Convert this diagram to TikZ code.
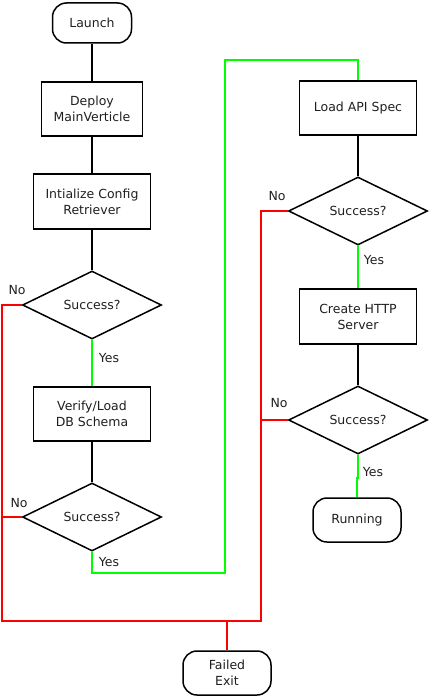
\documentclass[tikz,border=0pt]{standalone}
\usepackage{fontspec}
\setmainfont{DejaVu Sans}
\usetikzlibrary{shapes.geometric}
\begin{document}
\begin{tikzpicture}[x=1pt,y=-1pt,
  base/.style={font=\fontsize{12.5}{16}\selectfont, text=black!88, align=center, line width=1.5pt, draw=black},
  proc/.style={base, rectangle, minimum width=117pt, minimum height=54pt, inner sep=0pt},
  term/.style={base, rectangle, rounded corners=14pt, minimum width=88pt, minimum height=44pt, inner sep=0pt},
  dec/.style={base, diamond, minimum width=139pt, minimum height=68pt, inner sep=0pt},
  lbl/.style={font=\fontsize{12.5}{14}\selectfont, text=black!88, inner sep=0pt},
  flow/.style={line width=1.5pt, draw=black},
  yesline/.style={line width=1.5pt, draw=green},
  noline/.style={line width=1.5pt, draw=red}]
\useasboundingbox (0,0) rectangle (429,698);

% left column
\node[term, minimum width=79pt, minimum height=40pt] (launch) at (92,23) {Launch};
\node[proc, minimum width=101pt] (deploy) at (92,109) {Deploy\\MainVerticle};
\node[proc, minimum height=55pt] (config) at (92,201.5) {Intialize Config\\Retriever};
\node[dec] (d1) at (92,305) {Success?};
\node[proc] (verify) at (92,414) {Verify/Load\\DB Schema};
\node[dec] (d2) at (92,517) {Success?};

% right column
\node[proc] (api) at (358,108) {Load API Spec};
\node[dec] (d3) at (358,211) {Success?};
\node[proc, minimum height=55pt] (http) at (358,316.5) {Create HTTP\\Server};
\node[dec] (d4) at (358,420) {Success?};
\node[term] (running) at (357,520) {Running};

\node[term] (failed) at (227,673) {Failed\\Exit};

% labels
\node[lbl] (noA) at (17,290) {No};
\node[lbl] (noB) at (19,503) {No};
\node[lbl] (noC) at (277,196) {No};
\node[lbl] (noD) at (279,403) {No};
\node[lbl] (yesA) at (109,358) {Yes};
\node[lbl] (yesB) at (109,562) {Yes};
\node[lbl] (yesC) at (374,260) {Yes};
\node[lbl] (yesD) at (373,472) {Yes};

% black connectors
\draw[flow] (launch) -- (deploy);
\draw[flow] (deploy) -- (config);
\draw[flow] (config) -- (d1);
\draw[flow] (verify) -- (d2);
\draw[flow] (api) -- (d3);
\draw[flow] (http) -- (d4);

% green connectors
\coordinate (g1) at (225,573);
\coordinate (g2) at (225,60);
\draw[yesline] (d1.south) -- (verify.north);
\draw[yesline] (d2.south) |- (g1) -- (g2) -| (api.north);
\draw[yesline] (d3.south) -- (http.north);
\draw[yesline] (d4.south) -- ++(0,23) -| (running.north);

% red connectors
\coordinate (r1) at (2,621);
\coordinate (r2) at (261,621);
\draw[noline] (d1.west) -| (r1) -- (r2) |- (d3.west);
\draw[noline] (d2.west) -- (d2.west -| r1);
\draw[noline] (d4.west) -- (d4.west -| r2);
\draw[noline] (failed.north) -- (failed.north |- r1);
\end{tikzpicture}
\end{document}
